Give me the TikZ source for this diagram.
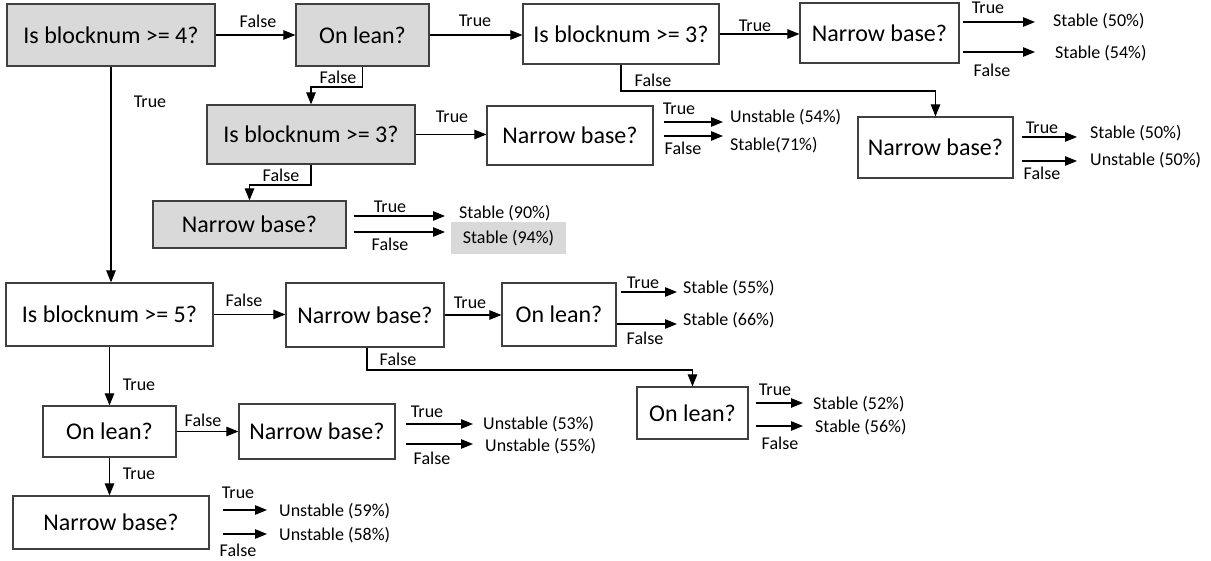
\documentclass[tikz,border=0pt]{standalone}
\usepackage{fontspec}
\setmainfont{Carlito}
\usetikzlibrary{arrows.meta}
\definecolor{boxgray}{HTML}{D9D9D9}
\definecolor{edgegray}{HTML}{404040}
\tikzset{
  qbox/.style={draw=edgegray, line width=1.2pt, rectangle, inner sep=0pt, font=\fontsize{24}{28}\selectfont},
  shaded/.style={qbox, fill=boxgray},
  lbl/.style={inner sep=0pt, font=\fontsize{18}{21}\selectfont},
  res/.style={inner sep=0pt, anchor=west, font=\fontsize{18}{21}\selectfont},
  arr/.style={draw=black, line width=1.1pt, -{Triangle[length=12pt,width=9.5pt]}},
  ln/.style={draw=black, line width=1.1pt}
}
\begin{document}
\begin{tikzpicture}[x=1pt,y=-1pt]
\useasboundingbox (0,0) rectangle (1211,561);
% boxes
\node[shaded, minimum width=208pt, minimum height=62pt] (A) at (111,35) {Is blocknum >= 4?};
\node[shaded, minimum width=133pt, minimum height=62pt] (B) at (362.5,35) {On lean?};
\node[qbox, minimum width=196pt, minimum height=60pt] (C) at (621,34) {Is blocknum >= 3?};
\node[qbox, minimum width=159pt, minimum height=60pt] (D) at (879.5,33) {Narrow base?};
\node[qbox, minimum width=155pt, minimum height=61pt] (E) at (935.5,147.5) {Narrow base?};
\node[shaded, minimum width=208pt, minimum height=59pt] (F) at (311,134.5) {Is blocknum >= 3?};
\node[qbox, minimum width=166pt, minimum height=59pt] (G) at (570,135.5) {Narrow base?};
\node[shaded, minimum width=193pt, minimum height=47pt] (H) at (249.5,224.5) {Narrow base?};
\node[qbox, minimum width=207pt, minimum height=63pt] (I) at (109.5,314.5) {Is blocknum >= 5?};
\node[qbox, minimum width=158pt, minimum height=64pt] (J) at (365,315) {Narrow base?};
\node[qbox, minimum width=114pt, minimum height=63pt] (K) at (559,314.5) {On lean?};
\node[qbox, minimum width=111pt, minimum height=52pt] (L) at (692.5,413) {On lean?};
\node[qbox, minimum width=133pt, minimum height=51pt] (M) at (109.5,431.5) {On lean?};
\node[qbox, minimum width=156pt, minimum height=55pt] (N) at (317,431.5) {Narrow base?};
\node[qbox, minimum width=196pt, minimum height=53pt] (O) at (111,522.5) {Narrow base?};

% internal connectors
\draw[arr] (A.east) -- (B.west);
\draw[arr] (B.east) -- (B.east -| C.west);
\draw[arr] (C.east) -- (C.east -| D.west);
\draw[arr] (A.south) -- (A.south |- I.north);
\draw[arr] (B.south) -- (B.south |- 0,87) -| (F.north);
\draw[arr] (C.south) -- (C.south |- 0,91) -| (E.north);
\draw[arr] (F.east) -- (F.east -| G.west);
\draw[arr] (F.south) -- (F.south |- 0,185) -| (H.north);
\draw[arr] (I.east) -- (I.east -| J.west);
\draw[arr] (J.east) -- (J.east -| K.west);
\draw[arr] ([xshift=2pt]J.south) -- ([xshift=2pt]J.south |- 0,370) -| (L.north);
\draw[arr] (I.south) -- (I.south |- M.north);
\draw[arr] (M.east) -- (M.east -| N.west);
\draw[arr] (M.south) -- (M.south |- O.north);

% branch labels
\node[lbl] (lAB) at (258,21) {False};
\node[lbl] (lBC) at (475,21) {True};
\node[lbl] (lCD) at (755,26) {True};
\node[lbl] (lAI) at (150,102) {True};
\node[lbl] (lBF) at (338,77) {False};
\node[lbl] (lCE) at (653,80) {False};
\node[lbl] (lFG) at (452,117) {True};
\node[lbl] (lFH) at (281,175) {False};
\node[lbl] (lIJ) at (244,300) {False};
\node[lbl] (lJK) at (470,303) {True};
\node[lbl] (lJL) at (398,359) {False};
\node[lbl] (lIM) at (139,385) {True};
\node[lbl] (lMN) at (203,420) {False};
\node[lbl] (lMO) at (139,474) {True};

% outcome arrows: D
\coordinate (dT) at (1035,22);
\coordinate (dF) at (1035,52);
\draw[arr, shorten <=3pt] (D.east |- dT) -- (dT);
\draw[arr, shorten <=3pt] (D.east |- dF) -- (dF);
\node[lbl] (ldT) at (988,8) {True};
\node[lbl] (ldF) at (992,70) {False};
\node[res] (rd1) at (1053,21) {Stable (50\%)};
\node[res] (rd2) at (1055,53) {Stable (54\%)};
% E
\coordinate (eT) at (1077,137);
\coordinate (eF) at (1077,161);
\draw[arr, shorten <=8pt] (E.east |- eT) -- (eT);
\draw[arr, shorten <=8pt] (E.east |- eF) -- (eF);
\node[lbl] (leT) at (1042,128) {True};
\node[lbl] (leF) at (1042,173) {False};
\node[res] (re1) at (1090,133) {Stable (50\%)};
\node[res] (re2) at (1090,160) {Unstable (50\%)};
% G
\coordinate (gT) at (723,122);
\coordinate (gF) at (723,136);
\draw[arr, shorten <=10pt] (G.east |- gT) -- (gT);
\draw[arr, shorten <=10pt] (G.east |- gF) -- (gF);
\node[lbl] (lgT) at (679,109) {True};
\node[lbl] (lgF) at (683,148) {False};
\node[res] (rg1) at (730,117) {Unstable (54\%)};
\node[res] (rg2) at (730,145) {Stable(71\%)};
% H
\coordinate (hT) at (445,216);
\coordinate (hF) at (445,232);
\draw[arr, shorten <=7pt] (H.east |- hT) -- (hT);
\draw[arr, shorten <=7pt] (H.east |- hF) -- (hF);
\node[lbl] (lhT) at (390,207) {True};
\node[lbl] (lhF) at (390,244) {False};
\node[res] (rh1) at (459,213) {Stable (90\%)};
\node[inner sep=0pt, fill=boxgray, minimum width=115pt, minimum height=32pt, font=\fontsize{18}{21}\selectfont] (rh2) at (508.5,238) {Stable (94\%)};
% K
\coordinate (kT) at (677,292);
\coordinate (kF) at (677,324);
\draw[arr, shorten <=4pt] (K.east |- kT) -- (kT);
\draw[arr] (K.east |- kF) -- (kF);
\node[lbl] (lkT) at (643,283) {True};
\node[lbl] (lkF) at (645,338) {False};
\node[res] (rk1) at (683,288) {Stable (55\%)};
\node[res] (rk2) at (683,320) {Stable (66\%)};
% L
\coordinate (lT) at (803,403);
\coordinate (lF) at (803,426);
\draw[arr, shorten <=7pt] (L.east |- lT) -- (lT);
\draw[arr, shorten <=7pt] (L.east |- lF) -- (lF);
\node[lbl] (llT) at (775,390) {True};
\node[lbl] (llF) at (780,443) {False};
\node[res] (rl1) at (813,404) {Stable (52\%)};
\node[res] (rl2) at (815,427) {Stable (56\%)};
% N
\coordinate (nT) at (473,424);
\coordinate (nF) at (473,444);
\draw[arr, shorten <=10pt] (N.east |- nT) -- (nT);
\draw[arr, shorten <=10pt] (N.east |- nF) -- (nF);
\node[lbl] (lnT) at (427,412) {True};
\node[lbl] (lnF) at (432,458) {False};
\node[res] (rn1) at (483,424) {Unstable (53\%)};
\node[res] (rn2) at (485,446) {Unstable (55\%)};
% O
\coordinate (oT) at (267,510);
\coordinate (oF) at (267,534);
\draw[arr, shorten <=13pt] (O.east |- oT) -- (oT);
\draw[arr, shorten <=13pt] (O.east |- oF) -- (oF);
\node[lbl] (loT) at (238,493) {True};
\node[lbl] (loF) at (238,550) {False};
\node[res] (ro1) at (279,511) {Unstable (59\%)};
\node[res] (ro2) at (279,535) {Unstable (58\%)};
\end{tikzpicture}
\end{document}
